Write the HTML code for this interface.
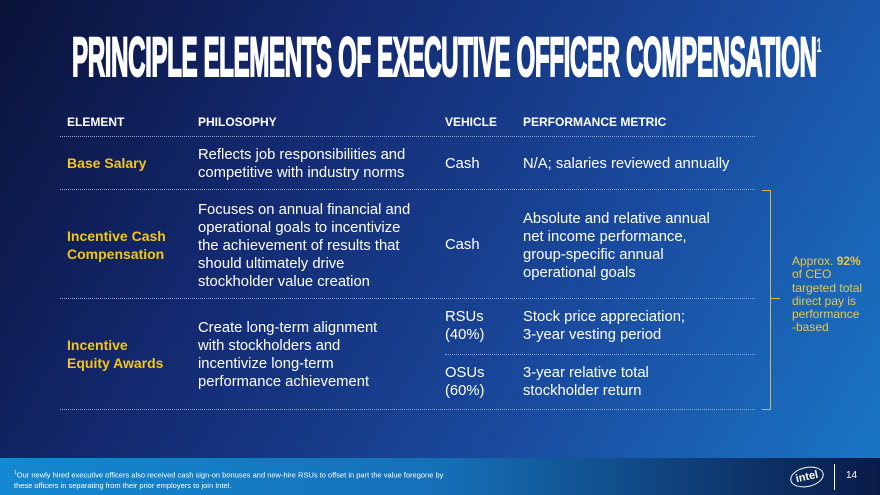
<!DOCTYPE html>
<html><head><meta charset="utf-8"><style>
body{margin:0}
#s{position:relative;width:880px;height:495px;overflow:hidden;font-family:"Liberation Sans",sans-serif;color:#fff;
background:linear-gradient(120deg,#0a1238 0%,#13286e 30%,#1a4a9e 65%,#1a78c8 100%);}
.t{position:absolute;white-space:nowrap}
.h{font-size:12px;font-weight:bold;top:115px}
.b{font-size:14.8px;line-height:18px}
.y{color:#f5c518;font-weight:bold;font-size:14px}
.ln{position:absolute;height:0;border-top:1px dotted #8fa6d0}
#title{position:absolute;left:72px;top:16px;font-size:56px;font-weight:bold;letter-spacing:-1px;transform-origin:0 0;transform:scaleX(0.432);white-space:nowrap;line-height:60px;-webkit-text-stroke:2px #fff}
#foot{position:absolute;left:0;top:458px;width:880px;height:37px;background:linear-gradient(90deg,#1488d0 0%,#1570b8 50%,#0a1a48 100%)}
</style></head><body><div id="s">
<div id="title">PRINCIPLE ELEMENTS OF EXECUTIVE OFFICER COMPENSATION<sup style="font-size:20px;vertical-align:24px;-webkit-text-stroke:0">1</sup></div>
<div class="t h" style="left:67px">ELEMENT</div>
<div class="t h" style="left:198px">PHILOSOPHY</div>
<div class="t h" style="left:445px">VEHICLE</div>
<div class="t h" style="left:523px">PERFORMANCE METRIC</div>
<div class="ln" style="left:60px;width:695px;top:136px"></div>
<div class="t b y" style="left:67px;top:154px">Base Salary</div>
<div class="t b" style="left:198px;top:146px">Reflects job responsibilities and<br>competitive with industry norms</div>
<div class="t b" style="left:445px;top:155px">Cash</div>
<div class="t b" style="left:523px;top:155px">N/A; salaries reviewed annually</div>
<div class="ln" style="left:60px;width:695px;top:189px"></div>
<div class="t b y" style="left:67px;top:227px">Incentive Cash<br>Compensation</div>
<div class="t b" style="left:198px;top:201px">Focuses on annual financial and<br>operational goals to incentivize<br>the achievement of results that<br>should ultimately drive<br>stockholder value creation</div>
<div class="t b" style="left:445px;top:236px">Cash</div>
<div class="t b" style="left:523px;top:210px">Absolute and relative annual<br>net income performance,<br>group-specific annual<br>operational goals</div>
<div class="ln" style="left:60px;width:695px;top:298px"></div>
<div class="t b y" style="left:67px;top:336px">Incentive<br>Equity Awards</div>
<div class="t b" style="left:198px;top:319px">Create long-term alignment<br>with stockholders and<br>incentivize long-term<br>performance achievement</div>
<div class="t b" style="left:445px;top:308px">RSUs<br>(40%)</div>
<div class="t b" style="left:523px;top:308px">Stock price appreciation;<br>3-year vesting period</div>
<div class="ln" style="left:445px;width:310px;top:354px"></div>
<div class="t b" style="left:445px;top:364px">OSUs<br>(60%)</div>
<div class="t b" style="left:523px;top:364px">3-year relative total<br>stockholder return</div>
<div class="ln" style="left:60px;width:695px;top:409px"></div>
<div style="position:absolute;left:762px;top:190px;width:8px;height:218px;border:1px solid #d4b84a;border-left:none"></div>
<div style="position:absolute;left:771px;top:298px;width:9px;border-top:1px solid #d4b84a"></div>
<div class="t" style="left:792px;top:255px;font-size:12px;line-height:13.3px;color:#e8c84a">Approx. <b>92%</b><br>of CEO<br>targeted total<br>direct pay is<br>performance<br>-based</div>
<div id="foot"></div>
<div class="t" style="left:14px;top:468px;font-size:7.5px;line-height:10px;color:#fff"><sup style="font-size:5px">1</sup>Our newly hired executive officers also received cash sign-on bonuses and new-hire RSUs to offset in part the value foregone by<br>these officers in separating from their prior employers to join Intel.</div>
<div class="t" style="left:790px;top:467px;width:32px;height:18px;border:1.5px solid #fff;border-radius:50%;font-size:11px;font-weight:bold;text-align:center;line-height:18px;transform:rotate(-12deg)">intel</div>
<div style="position:absolute;left:834px;top:464px;height:26px;border-left:1px solid #fff"></div>
<div class="t" style="left:846px;top:470px;font-size:10px">14</div>
</div></body></html>
